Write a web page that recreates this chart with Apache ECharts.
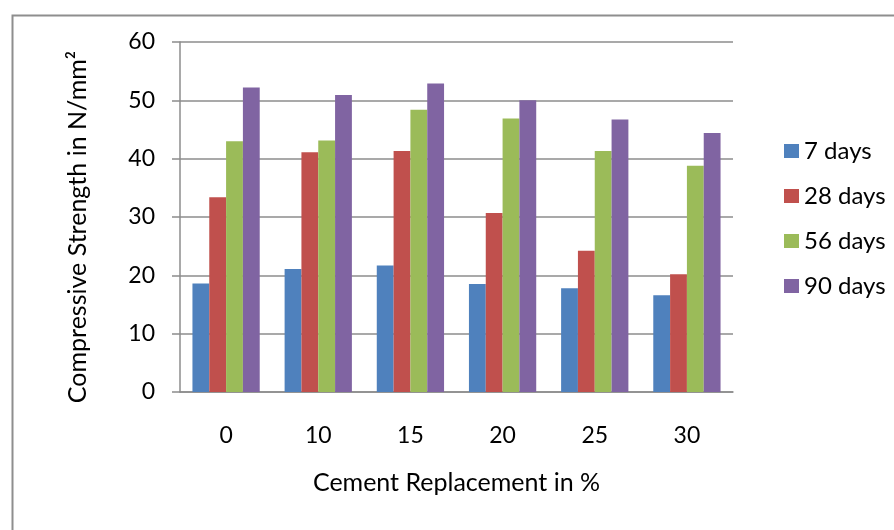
<!DOCTYPE html>
<html><head><meta charset="utf-8">
<script src="https://cdn.jsdelivr.net/npm/echarts@6/dist/echarts.min.js"></script>
<style>html,body{margin:0;padding:0;background:#fff}#c{width:894px;height:530px}</style>
</head><body><div id="c"></div>
<script>
const categories = ['0', '10', '15', '20', '25', '30'];
const seriesNames = ['7 days', '28 days', '56 days', '90 days'];
const days7  = [18.6, 21.1, 21.7, 18.5, 17.8, 16.6];
const days28 = [33.4, 41.1, 41.3, 30.7, 24.2, 20.2];
const days56 = [43.0, 43.1, 48.4, 46.9, 41.3, 38.8];
const days90 = [52.2, 50.9, 52.9, 50.0, 46.7, 44.4];
const yTicks = [0, 10, 20, 30, 40, 50, 60];
const colors = ['#4F81BD', '#C0504D', '#9BBB59', '#8064A2'];
const FONT = 'Lato';

const chart = echarts.init(document.getElementById('c'));
const values = [days7, days28, days56, days90];
chart.setOption({
  animation: false,
  backgroundColor: '#fff',
  textStyle: { fontFamily: FONT },
  graphic: [{
    type: 'rect', left: 10, top: 13,
    shape: { width: 1000, height: 1000 },
    style: { fill: 'none', stroke: '#8e8e8e', lineWidth: 2 }
  }],
  grid: { left: 180, right: 161, top: 42, bottom: 138 },
  legend: {
    orient: 'vertical', left: 784, top: 139, padding: 0,
    itemWidth: 15, itemHeight: 14, itemGap: 21,
    icon: 'rect',
    textStyle: { fontFamily: FONT, fontSize: 24, color: '#000' },
    data: seriesNames
  },
  xAxis: {
    type: 'category', data: categories,
    name: 'Cement Replacement in %', nameLocation: 'middle', nameGap: 78,
    nameTextStyle: { fontFamily: FONT, fontSize: 25, color: '#000' },
    axisLine: { lineStyle: { color: '#8c8c8c', width: 1.5 } },
    axisTick: { show: false },
    axisLabel: { fontFamily: FONT, fontSize: 23, color: '#000', margin: 32 }
  },
  yAxis: {
    type: 'value', min: yTicks[0], max: yTicks[yTicks.length - 1], interval: 10,
    name: 'Compressive Strength in N/mm²', nameLocation: 'middle', nameGap: 90,
    nameTextStyle: { fontFamily: FONT, fontSize: 25, color: '#000', padding: [0, 20, 0, 0] },
    axisLine: { show: true, lineStyle: { color: '#8c8c8c', width: 1.5 } },
    axisTick: { show: true, length: 8, lineStyle: { color: '#8c8c8c', width: 1.5 } },
    splitLine: { lineStyle: { color: '#8c8c8c', width: 1.5 } },
    axisLabel: { fontFamily: FONT, fontSize: 23, color: '#000', margin: 25 }
  },
  series: seriesNames.map((n, i) => ({
    name: n, type: 'bar', data: values[i],
    barGap: '0%', barCategoryGap: '27%',
    itemStyle: { color: colors[i] }
  }))
});
</script></body></html>
